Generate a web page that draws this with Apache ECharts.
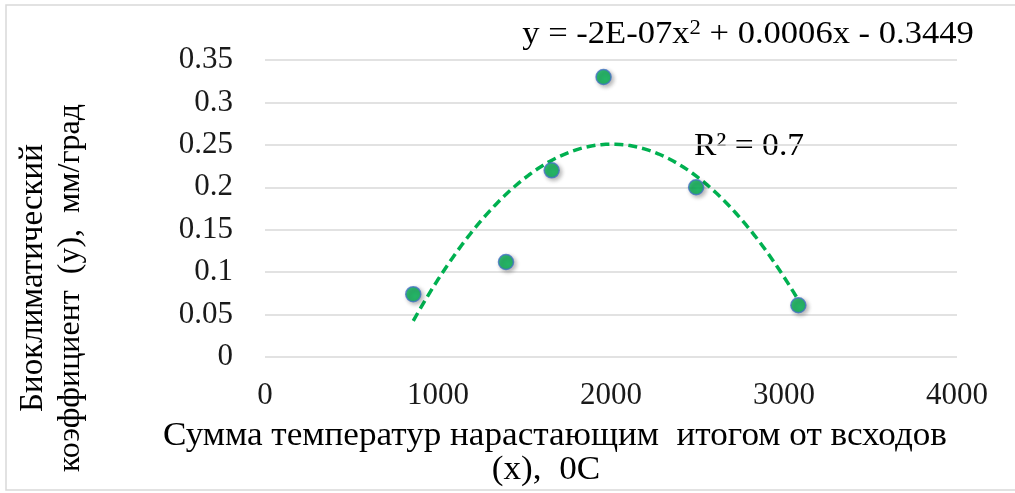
<!DOCTYPE html>
<html>
<head>
<meta charset="utf-8">
<script src="https://cdn.jsdelivr.net/npm/echarts@6/dist/echarts.min.js"></script>
<style>
html,body{margin:0;padding:0;background:#fff;}
#chart{width:1015px;height:493px;}
</style>
</head>
<body>
<div id="chart"></div>
<script>
// Data
var sumTemp = [857, 1393, 1657, 1957, 2492, 3083];
var bioCoef = [0.074, 0.112, 0.22, 0.33, 0.2, 0.061];
var xTicks = [0, 1000, 2000, 3000, 4000];
var yTicks = [0, 0.05, 0.1, 0.15, 0.2, 0.25, 0.3, 0.35];
var xTitleLines = ['Сумма температур нарастающим  итогом от всходов', '(x),  0C'];
var yTitleLines = ['Биоклиматический', 'коэффициент  (у),  мм/град'];
var eqText = 'y = -2E-07x{sup|2} + 0.0006x - 0.3449';
var r2Text = 'R² = 0.7';

// Polynomial (order 2) least-squares trendline computed from the data above
function polyFit2(xs, ys) {
  var n = xs.length, s = [0,0,0,0,0], t = [0,0,0];
  for (var i = 0; i < n; i++) {
    var x = xs[i] / 1000, p = 1;
    for (var k = 0; k < 5; k++) { s[k] += p; if (k < 3) t[k] += p * ys[i]; p *= x; }
  }
  var A = [[s[0], s[1], s[2], t[0]], [s[1], s[2], s[3], t[1]], [s[2], s[3], s[4], t[2]]];
  for (var c = 0; c < 3; c++) {
    for (var r = c + 1; r < 3; r++) {
      var f = A[r][c] / A[c][c];
      for (var j = c; j < 4; j++) A[r][j] -= f * A[c][j];
    }
  }
  var b = [0,0,0];
  for (var r2 = 2; r2 >= 0; r2--) {
    var v = A[r2][3];
    for (var j2 = r2 + 1; j2 < 3; j2++) v -= A[r2][j2] * b[j2];
    b[r2] = v / A[r2][r2];
  }
  return function (x) { var u = x / 1000; return b[0] + b[1] * u + b[2] * u * u; };
}
var fit = polyFit2(sumTemp, bioCoef);
var xMin = Math.min.apply(null, sumTemp), xMax = Math.max.apply(null, sumTemp);
var trend = [];
for (var i = 0; i <= 80; i++) {
  var xv = xMin + (xMax - xMin) * i / 80;
  trend.push([xv, fit(xv)]);
}
var scatterData = sumTemp.map(function (x, i) { return [x, bioCoef[i]]; });

var FONT = '"Liberation Serif", "Times New Roman", serif';
var chart = echarts.init(document.getElementById('chart'), null, {renderer: 'canvas'});
chart.setOption({
  animation: false,
  backgroundColor: '#ffffff',
  grid: {left: 265, right: 58, top: 60, bottom: 136, containLabel: false},
  xAxis: {
    type: 'value', min: xTicks[0], max: xTicks[xTicks.length - 1], interval: 1000,
    axisLine: {show: false}, axisTick: {show: false},
    splitLine: {show: false},
    axisLabel: {margin: 23, fontFamily: FONT, fontSize: 31, color: '#1a1a1a',
      formatter: function (v) { return String(v); }}
  },
  yAxis: {
    type: 'value', min: yTicks[0], max: yTicks[yTicks.length - 1], interval: 0.05,
    axisLine: {show: false}, axisTick: {show: false},
    splitLine: {show: true, lineStyle: {color: '#D9D9D9', width: 1.6}},
    axisLabel: {margin: 32, fontFamily: FONT, fontSize: 31, color: '#1a1a1a',
      formatter: function (v) { return String(Math.round(v * 100) / 100); }}
  },
  series: [
    {
      type: 'line', data: trend, showSymbol: false, symbol: 'none', smooth: false,
      lineStyle: {color: '#00B050', width: 3.5, type: [9, 5]}, z: 2, silent: true
    },
    {
      type: 'scatter', data: scatterData, symbol: 'circle', symbolSize: 15, z: 3,
      itemStyle: {
        color: '#00B050', borderColor: '#4472C4', borderWidth: 1.5,
        shadowColor: 'rgba(0,0,0,0.35)', shadowBlur: 4, shadowOffsetX: 2, shadowOffsetY: 2
      }
    }
  ],
  graphic: [
    {type: 'rect', shape: {x: 6, y: 5, width: 1020, height: 485}, silent: true,
     style: {fill: 'none', stroke: '#D9D9D9', lineWidth: 1.5}, z: -1},
    {type: 'text', x: 748, y: 35, scaleX: 1.08, silent: true,
     style: {text: eqText, fontFamily: FONT, fontSize: 32, fill: '#000', align: 'center', verticalAlign: 'middle',
       rich: {sup: {fontFamily: FONT, fontSize: 21, fill: '#000', verticalAlign: 'top', padding: [0, 0, 14, 0]}}}},
    {type: 'text', x: 749, y: 147, scaleX: 1.05, silent: true,
     style: {text: r2Text, fontFamily: FONT, fontSize: 32, fill: '#000', align: 'center', verticalAlign: 'middle'}},
    {type: 'text', x: 555, y: 436, scaleX: 1.065, silent: true,
     style: {text: xTitleLines[0], fontFamily: FONT, fontSize: 33, fill: '#000', align: 'center', verticalAlign: 'middle'}},
    {type: 'text', x: 546, y: 470, scaleX: 1.065, silent: true,
     style: {text: xTitleLines[1], fontFamily: FONT, fontSize: 33, fill: '#000', align: 'center', verticalAlign: 'middle'}},
    {type: 'text', x: 33, y: 278, rotation: Math.PI / 2, silent: true,
     style: {text: yTitleLines[0], fontFamily: FONT, fontSize: 33, fill: '#000', align: 'center', verticalAlign: 'middle'}},
    {type: 'text', x: 71, y: 288, rotation: Math.PI / 2, silent: true,
     style: {text: yTitleLines[1], fontFamily: FONT, fontSize: 32, fill: '#000', align: 'center', verticalAlign: 'middle'}}
  ]
});
</script>
</body>
</html>
